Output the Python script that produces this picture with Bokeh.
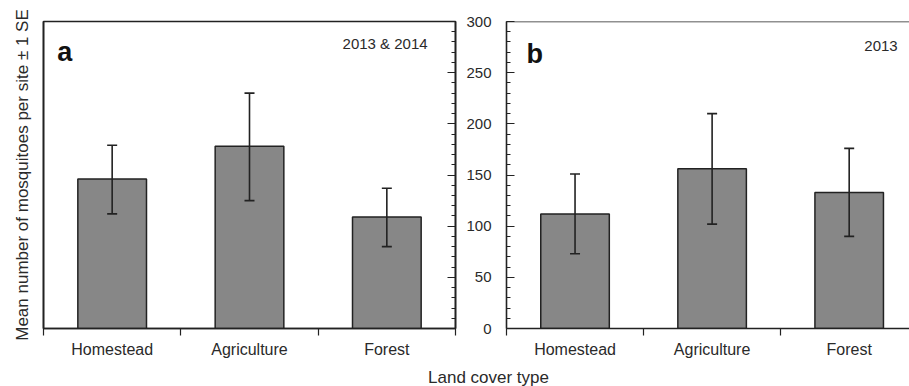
from bokeh.plotting import figure
from bokeh.models import (Range1d, FixedTicker, LinearAxis, Whisker, TeeHead,
                          ColumnDataSource, Label, Span)
from bokeh.layouts import row, column
from bokeh.embed import file_html
from bokeh.resources import INLINE

# ---- data ----
categories = ["Homestead", "Agriculture", "Forest"]
means_a = [146, 178, 109]
upper_a = [179, 230, 137]
lower_a = [112, 125, 80]
means_b = [112, 156, 133]
upper_b = [151, 210, 176]
lower_b = [73, 102, 90]
y_ticks = [0, 50, 100, 150, 200, 250, 300]
y_minor_ticks = [0, 10, 20, 30, 40, 50, 60, 70, 80, 90, 100, 110, 120, 130, 140, 150,
                 160, 170, 180, 190, 200, 210, 220, 230, 240, 250, 260, 270, 280, 290, 300]
panel_letters = ["a", "b"]
panel_years = ["2013 & 2014", "2013"]
y_label = "Mean number of mosquitoes per site \u00b1 1 SE"
x_label = "Land cover type"

FONT = "Liberation Sans"
INK = "#222222"
BAR = "#878787"
TXT = "#2a2a2a"

x_pos = [i + 0.5 for i in range(len(categories))]
x_bounds = [i for i in range(len(categories) + 1)]


def style_x_axis(p):
    ax = p.xaxis[0]
    ax.ticker = FixedTicker(ticks=x_pos, minor_ticks=x_bounds)
    ax.major_label_overrides = {x: c for x, c in zip(x_pos, categories)}
    ax.major_tick_in = 0
    ax.major_tick_out = 0
    ax.minor_tick_in = 0
    ax.minor_tick_out = 7
    ax.minor_tick_line_color = INK
    ax.minor_tick_line_width = 1.2
    ax.axis_line_color = INK
    ax.axis_line_width = 1.6
    ax.major_label_text_font = FONT
    ax.major_label_text_font_size = "16px"
    ax.major_label_text_color = TXT
    ax.major_label_standoff = 5


def make_panel(means, upper, lower, width, x_end, letter, year, letter_xy, year_xy,
               border_left, border_right, border_top, border_bottom):
    p = figure(width=width, height=366, x_range=Range1d(0, x_end), y_range=Range1d(0, 300),
               output_backend="svg", toolbar_location=None,
               min_border_left=border_left, min_border_right=border_right,
               min_border_top=border_top, min_border_bottom=border_bottom)
    p.xgrid.grid_line_color = None
    p.ygrid.grid_line_color = None
    src = ColumnDataSource(dict(x=x_pos, mean=means, upper=upper, lower=lower))
    p.vbar(x="x", top="mean", bottom=0, width=0.5, source=src,
           fill_color=BAR, line_color=INK, line_width=1.5)
    wh = Whisker(source=src, base="x", upper="upper", lower="lower",
                 line_color=INK, line_width=1.6,
                 upper_head=TeeHead(size=10, line_color=INK, line_width=1.6),
                 lower_head=TeeHead(size=10, line_color=INK, line_width=1.6))
    wh.level = "overlay"
    p.add_layout(wh)
    style_x_axis(p)

    yax = p.yaxis[0]
    yax.axis_line_color = INK
    yax.axis_line_width = 1.6
    yax.major_tick_line_color = INK
    yax.minor_tick_line_color = INK
    yax.major_tick_line_width = 1.2
    yax.minor_tick_line_width = 1.0
    yax.major_tick_out = 0
    yax.minor_tick_out = 0

    p.add_layout(Label(x=letter_xy[0], y=letter_xy[1], text=letter, text_font=FONT,
                       text_font_size="27px", text_font_style="bold", text_color="#111111",
                       text_baseline="alphabetic", text_align="left"))
    p.add_layout(Label(x=year_xy[0], y=year_xy[1], text=year, text_font=FONT,
                       text_font_size="15px", text_color=TXT,
                       text_baseline="middle", text_align="right"))
    return p


# ---- panel a ----
pa = make_panel(means_a, upper_a, lower_a, width=463, x_end=3, letter=panel_letters[0],
                year=panel_years[0], letter_xy=(0.10, 270), year_xy=(2.797, 278.5),
                border_left=43, border_right=8, border_top=21, border_bottom=36)
pa.outline_line_color = INK
pa.outline_line_width = 1.6
ya = pa.yaxis[0]
ya.ticker = FixedTicker(ticks=[], minor_ticks=[])
ya.major_tick_in = 0
ya.minor_tick_in = 0
ya.major_label_standoff = 0
ya.axis_label = y_label
ya.axis_label_text_font = FONT
ya.axis_label_text_font_size = "17px"
ya.axis_label_text_font_style = "normal"
ya.axis_label_text_color = TXT
ya.axis_label_standoff = 12
right_ax = LinearAxis(ticker=FixedTicker(ticks=y_ticks, minor_ticks=y_minor_ticks),
                      major_tick_in=8, major_tick_out=0, minor_tick_in=4, minor_tick_out=0,
                      major_tick_line_color=INK, minor_tick_line_color=INK,
                      major_tick_line_width=1.2, minor_tick_line_width=1.0,
                      axis_line_color=INK, axis_line_width=1.6,
                      major_label_overrides={t: "" for t in y_ticks},
                      major_label_standoff=0)
pa.add_layout(right_ax, "right")

# ---- panel b (cut off at the right edge) ----
pb = make_panel(means_b, upper_b, lower_b, width=446, x_end=2.94, letter=panel_letters[1],
                year=panel_years[1], letter_xy=(0.146, 268), year_xy=(2.854, 276.5),
                border_left=43, border_right=0, border_top=19, border_bottom=38)
pb.outline_line_color = None
pb.add_layout(Span(location=300, dimension="width", line_color=INK, line_width=1.6))
yb = pb.yaxis[0]
yb.ticker = FixedTicker(ticks=y_ticks, minor_ticks=y_minor_ticks)
yb.major_tick_in = 8
yb.minor_tick_in = 4
yb.major_label_text_font = FONT
yb.major_label_text_font_size = "15px"
yb.major_label_text_color = TXT
yb.major_label_standoff = 15

# ---- shared x label ----
pc = figure(width=909, height=20, x_range=Range1d(0, 909), y_range=Range1d(0, 20),
            output_backend="svg", toolbar_location=None, min_border=0)
pc.axis.visible = False
pc.xgrid.grid_line_color = None
pc.ygrid.grid_line_color = None
pc.outline_line_color = None
pc.add_layout(Label(x=488, y=9, text=x_label, text_font=FONT, text_font_size="17px",
                    text_color=TXT, text_align="center", text_baseline="middle"))

layout = column(row(pa, pb), pc)
open("out.html", "w").write(file_html(layout, INLINE))
